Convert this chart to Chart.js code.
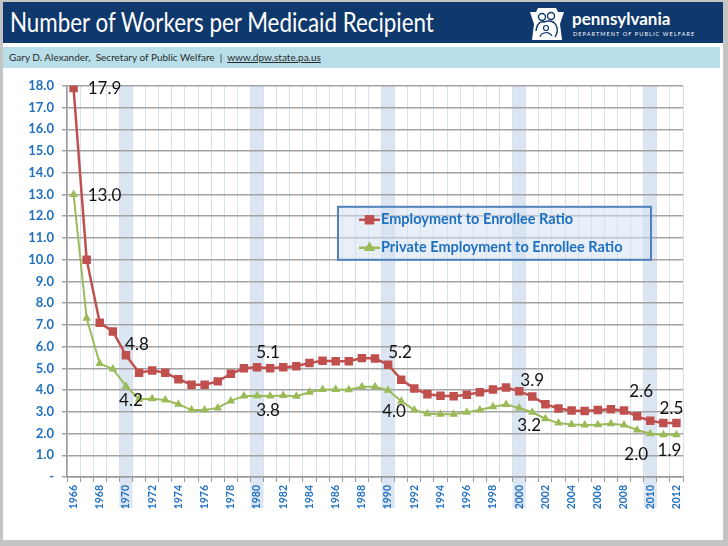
<!DOCTYPE html>
<html>
<head>
<meta charset="utf-8">
<script src="https://cdn.jsdelivr.net/npm/chart.js@4"></script>
<style>
  html, body { margin: 0; padding: 0; }
  body { width: 728px; height: 546px; background: #c4c4c4; position: relative; overflow: hidden; font-family: Lato, "Open Sans", sans-serif; }
  .slide { position: absolute; left: 3px; top: 2px; width: 720px; height: 538px; background: #fff; }
  .header { position: absolute; left: 0; top: 0; width: 720px; height: 41px; background: #0f386c; }
  .title { position: absolute; left: 7px; top: 4px; color: #fff; font-size: 26px; white-space: nowrap; transform: scaleX(0.86); transform-origin: left top; }
  .sub { position: absolute; left: 0; top: 45px; width: 717px; height: 21px; background: #b8dfe9; }
  .sub span { position: absolute; left: 6px; top: 4px; font-size: 10px; color: #2a2a2a; white-space: nowrap; }
  .sub u { text-decoration: underline; }
  .logo { position: absolute; left: 526px; top: 5px; }
  .pa { position: absolute; left: 569px; top: 6px; color: #fff; font-weight: bold; font-size: 17px; white-space: nowrap; }
  .dpw { position: absolute; left: 570px; top: 29px; color: #fff; font-size: 5.5px; letter-spacing: 1.1px; white-space: nowrap; }
  #wrap { position: absolute; left: 3px; top: 70px; width: 720px; height: 470px; }
</style>
</head>
<body>
<div class="slide">
  <div class="header">
    <div class="title">Number of Workers per Medicaid Recipient</div>
    <svg class="logo" width="36" height="34" viewBox="0 0 36 34">
      <path d="M1,5 L7,5 L9,1 L27,1 L29,5 L35,5 L31,17 L33,33 L3,33 L5,17 Z" fill="#fff"/>
      <circle cx="13" cy="10" r="3.5" fill="none" stroke="#0f386c" stroke-width="1.4"/>
      <circle cx="22" cy="9" r="3.5" fill="none" stroke="#0f386c" stroke-width="1.4"/>
      <path d="M7,24 C8,16 12,14 15,15 C18,14 24,13 27,18 C29,22 28,27 26,30" fill="none" stroke="#0f386c" stroke-width="1.4"/>
      <circle cx="17" cy="21" r="2.5" fill="none" stroke="#0f386c" stroke-width="1.2"/>
      <path d="M11,30 C12,25 20,24 23,29" fill="none" stroke="#0f386c" stroke-width="1.2"/>
    </svg>
    <div class="pa">pennsylvania</div>
    <div class="dpw">DEPARTMENT OF PUBLIC WELFARE</div>
  </div>
  <div class="sub"><span>Gary D. Alexander,&nbsp; Secretary of Public Welfare &nbsp;|&nbsp; <u>www.dpw.state.pa.us</u></span></div>
</div>
<div id="wrap"><canvas id="chart" width="720" height="470"></canvas></div>
<script>
// Years on the category axis
const years = ['1966','1967','1968','1969','1970','1971','1972','1973','1974','1975',
  '1976','1977','1978','1979','1980','1981','1982','1983','1984','1985',
  '1986','1987','1988','1989','1990','1991','1992','1993','1994','1995',
  '1996','1997','1998','1999','2000','2001','2002','2003','2004','2005',
  '2006','2007','2008','2009','2010','2011','2012'];

// Employment to Enrollee Ratio
const employmentRatio = [17.9, 10.0, 7.1, 6.7, 5.6, 4.8, 4.9, 4.8, 4.5, 4.25,
  4.25, 4.4, 4.75, 5.0, 5.05, 5.0, 5.05, 5.1, 5.25, 5.35,
  5.33, 5.33, 5.47, 5.45, 5.17, 4.48, 4.07, 3.81, 3.74, 3.72,
  3.78, 3.9, 4.03, 4.12, 3.95, 3.7, 3.35, 3.15, 3.06, 3.04,
  3.08, 3.12, 3.06, 2.79, 2.59, 2.48, 2.48];

// Private Employment to Enrollee Ratio
const privateRatio = [13.0, 7.3, 5.22, 4.97, 4.18, 3.58, 3.6, 3.54, 3.35, 3.08,
  3.08, 3.18, 3.5, 3.73, 3.74, 3.73, 3.75, 3.72, 3.9, 4.03,
  4.03, 4.02, 4.15, 4.15, 3.99, 3.49, 3.08, 2.91, 2.89, 2.89,
  2.98, 3.08, 3.23, 3.34, 3.18, 2.98, 2.68, 2.48, 2.42, 2.39,
  2.4, 2.45, 2.39, 2.16, 1.99, 1.94, 1.94];

// Decade years highlighted with a shaded band
const bandYears = ['1970', '1980', '1990', '2000', '2010'];

// Call-out labels: series (0 = employment, 1 = private), year, text
const callouts = [
  { s: 0, year: '1966', text: '17.9', dx: 31, dy: 1 },
  { s: 1, year: '1966', text: '13.0', dx: 31, dy: 1 },
  { s: 0, year: '1970', text: '4.8', dx: 11, dy: -11 },
  { s: 1, year: '1970', text: '4.2', dx: 5, dy: 14 },
  { s: 0, year: '1980', text: '5.1', dx: 11, dy: -15 },
  { s: 1, year: '1980', text: '3.8', dx: 11, dy: 15 },
  { s: 0, year: '1990', text: '5.2', dx: 12, dy: -12 },
  { s: 1, year: '1990', text: '4.0', dx: 6, dy: 21 },
  { s: 0, year: '2000', text: '3.9', dx: 13, dy: -11 },
  { s: 1, year: '2000', text: '3.2', dx: 10, dy: 18 },
  { s: 0, year: '2010', text: '2.6', dx: -9, dy: -29 },
  { s: 0, year: '2012', text: '2.5', dx: -5, dy: -15 },
  { s: 1, year: '2010', text: '2.0', dx: -14, dy: 21 },
  { s: 1, year: '2012', text: '1.9', dx: -7, dy: 16 }
];

const axisBlue = '#1f70c1';
const redColor = '#c0504d';
const greenColor = '#9bbb59';

// Shaded decade bands, drawn behind everything and down into the tick labels
const bandsPlugin = {
  id: 'bands',
  beforeDraw(chart) {
    const { ctx, chartArea, scales: { x } } = chart;
    const half = (x.getPixelForValue(1) - x.getPixelForValue(0)) / 2;
    ctx.save();
    ctx.fillStyle = '#dce6f2';
    bandYears.forEach(y => {
      const cx = x.getPixelForValue(years.indexOf(y));
      ctx.fillRect(cx - half, chartArea.top, half * 2, chartArea.bottom + 31 - chartArea.top);
    });
    ctx.restore();
  }
};

// Value call-outs next to selected points
const calloutPlugin = {
  id: 'callouts',
  afterDatasetsDraw(chart) {
    const { ctx, scales: { x, y } } = chart;
    ctx.save();
    ctx.fillStyle = '#111';
    ctx.font = '17px Lato, sans-serif';
    ctx.textAlign = 'center';
    ctx.textBaseline = 'middle';
    callouts.forEach(c => {
      const i = years.indexOf(c.year);
      const v = chart.data.datasets[c.s].data[i];
      ctx.fillText(c.text, x.getPixelForValue(i) + c.dx, y.getPixelForValue(v) + c.dy);
    });
    ctx.restore();
  }
};

// Boxed legend sitting inside the plot
const legendPlugin = {
  id: 'boxLegend',
  afterDraw(chart) {
    const { ctx, chartArea } = chart;
    const left = chartArea.left + 271, top = chartArea.top + 121;
    ctx.save();
    ctx.fillStyle = 'rgba(214,226,242,0.55)';
    ctx.fillRect(left, top, 313, 53);
    ctx.strokeStyle = '#4f81bd';
    ctx.lineWidth = 2;
    ctx.strokeRect(left, top, 313, 53);
    ctx.font = 'bold 14.5px Lato, sans-serif';
    ctx.textBaseline = 'middle';
    chart.data.datasets.forEach((ds, k) => {
      const yy = top + 13 + k * 28;
      ctx.strokeStyle = ds.borderColor;
      ctx.lineWidth = 2.5;
      ctx.beginPath();
      ctx.moveTo(left + 21, yy);
      ctx.lineTo(left + 42, yy);
      ctx.stroke();
      Chart.helpers.drawPoint(ctx, { pointStyle: ds.pointStyle, radius: ds.pointRadius - 1, borderWidth: 1 }, left + 31.5, yy);
      ctx.fillStyle = ds.backgroundColor;
      ctx.fill();
      ctx.fillStyle = axisBlue;
      ctx.fillText(ds.label, left + 43, yy);
    });
    ctx.restore();
  }
};

new Chart(document.getElementById('chart'), {
  type: 'line',
  data: {
    labels: years,
    datasets: [
      {
        label: 'Employment to Enrollee Ratio',
        data: employmentRatio,
        borderColor: redColor,
        backgroundColor: redColor,
        borderWidth: 2.5,
        pointStyle: 'rect',
        pointRadius: 6,
        pointBorderWidth: 0,
        tension: 0
      },
      {
        label: 'Private Employment to Enrollee Ratio',
        data: privateRatio,
        borderColor: greenColor,
        backgroundColor: greenColor,
        borderWidth: 2,
        pointStyle: 'triangle',
        pointRadius: 5,
        pointBorderWidth: 0,
        tension: 0
      }
    ]
  },
  options: {
    responsive: false,
    animation: false,
    layout: { padding: { left: 0, right: 40, top: 15, bottom: 0 } },
    plugins: { legend: { display: false }, tooltip: { enabled: false } },
    scales: {
      x: {
        offset: true,
        afterFit(scale) { scale.height = 63; },
        grid: { offset: true, color: '#d6e0ee', tickColor: '#9a9a9a', tickLength: 5, lineWidth: 1 },
        border: { color: '#9a9a9a', width: 1.5 },
        ticks: {
          autoSkip: false,
          minRotation: 90,
          maxRotation: 90,
          padding: 3,
          color: axisBlue,
          font: { family: 'Lato', weight: 'bold', size: 10.5 },
          callback(value, index) { return index % 2 === 0 ? this.getLabelForValue(value) : ''; }
        }
      },
      y: {
        min: 0,
        max: 18,
        afterFit(scale) { scale.width = 64; },
        grid: { color: '#a3a3a3', lineWidth: 1.5, tickLength: 5 },
        border: { color: '#9a9a9a', width: 1.5 },
        ticks: {
          stepSize: 1,
          padding: 8,
          color: axisBlue,
          font: { family: 'Lato', weight: 'bold', size: 13 },
          callback(v) { return v === 0 ? '-' : v.toFixed(1); }
        }
      }
    }
  },
  plugins: [bandsPlugin, calloutPlugin, legendPlugin]
});
</script>
</body>
</html>
